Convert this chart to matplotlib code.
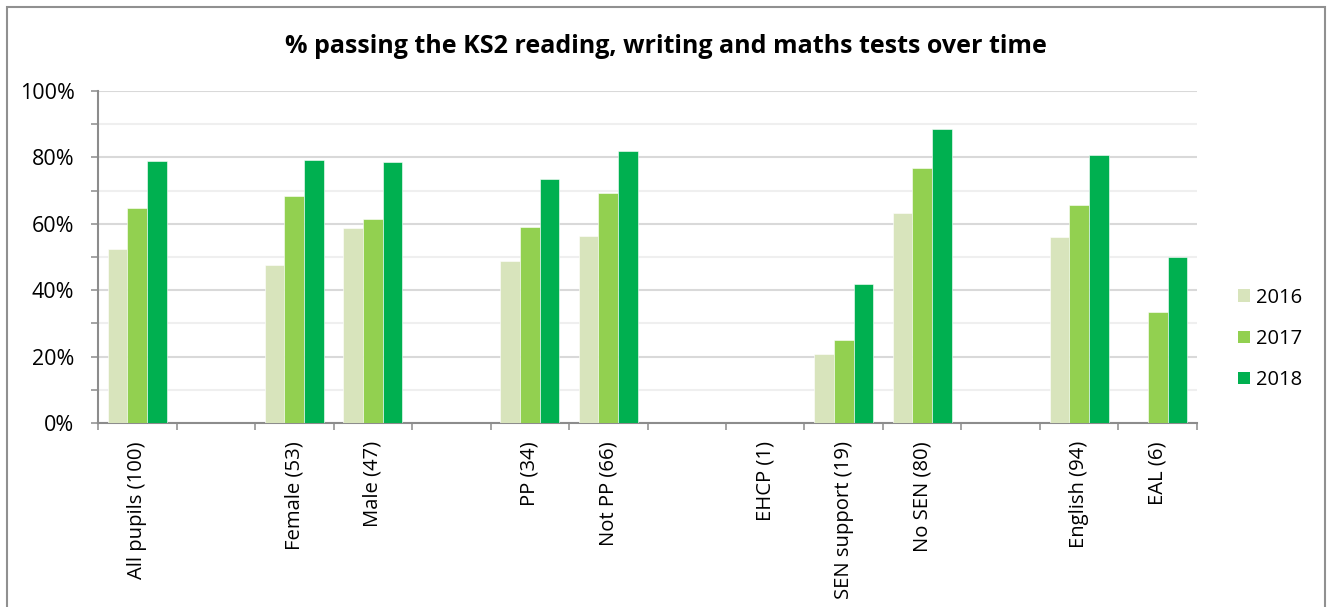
import numpy as np
from matplotlib import pyplot as plt
from matplotlib.patches import Patch, Rectangle

# One slot per category; empty strings are the spacer slots between groups
categories = ["All pupils (100)", "", "Female (53)", "Male (47)", "",
              "PP (34)", "Not PP (66)", "", "EHCP (1)", "SEN support (19)",
              "No SEN (80)", "", "English (94)", "EAL (6)"]
years = ["2016", "2017", "2018"]
nan = np.nan
pass_2016 = [52.3, nan, 47.7, 58.8, nan, 48.7, 56.4, nan, nan, 20.9, 63.2, nan, 55.9, nan]
pass_2017 = [64.8, nan, 68.4, 61.3, nan, 59.1, 69.4, nan, nan, 24.9, 76.7, nan, 65.7, 33.3]
pass_2018 = [79.0, nan, 79.2, 78.7, nan, 73.5, 81.8, nan, nan, 42.0, 88.7, nan, 80.8, 50.0]
colors = ["#d8e4bc", "#92d050", "#00b050"]

plt.rcParams['font.family'] = ['Open Sans', 'DejaVu Sans']

fig = plt.figure(figsize=(13.27, 6.07), dpi=100)
ax = fig.add_axes([0.0739, 0.3031, 0.8281, 0.5470])

x = np.arange(len(categories))
width = 0.25
for i, (vals, col) in enumerate(zip([pass_2016, pass_2017, pass_2018], colors)):
    vals = np.array(vals) / 100.0
    ax.bar(x + (i - 1) * width, vals, width, color=col, edgecolor="white", linewidth=0.4, zorder=3)

ax.set_xlim(-0.5, len(categories) - 0.5)
ax.set_ylim(0, 1)

# y axis: percentages with light minor gridlines every 10%
ax.set_yticks(np.arange(0, 1.01, 0.2))
ax.set_yticks(np.arange(0.1, 1.0, 0.2), minor=True)
ax.set_yticklabels([f"{int(v * 100)}%" for v in np.arange(0, 1.01, 0.2)])
ax.grid(axis="y", which="major", color="#d9d9d9", linewidth=1.5, zorder=0)
ax.grid(axis="y", which="minor", color="#efefef", linewidth=1.5, zorder=0)
ax.tick_params(axis="y", which="both", length=5, width=1.1, color="#8c8c8c",
               labelsize=15.5, pad=12)

# x axis: labels at slot centres, tick marks at slot boundaries
ax.set_xticks(x)
ax.set_xticklabels(categories, rotation=90, va="top", ha="center")
ax.set_xticks(np.arange(-0.5, len(categories)), minor=True)
ax.tick_params(axis="x", which="major", length=0, labelsize=14.6, pad=13)
ax.tick_params(axis="x", which="minor", length=5, width=1.1, color="#8c8c8c")

for side in ["top", "right"]:
    ax.spines[side].set_visible(False)
for side in ["left", "bottom"]:
    ax.spines[side].set_color("#8c8c8c")
    ax.spines[side].set_linewidth(1.5)

fig.text(0.502, 0.9226, "% passing the KS2 reading, writing and maths tests over time",
         ha="center", va="center", fontsize=18, fontweight="bold")

handles = [Patch(facecolor=c, label=y) for c, y in zip(colors, years)]
fig.legend(handles=handles, loc="center left", bbox_to_anchor=(0.9255, 0.4415),
           frameon=False, fontsize=14.5, handlelength=0.6, handleheight=0.6,
           handletextpad=0.3, labelspacing=1.05, borderpad=0)

# grey outline around the whole chart
fig.patches.append(Rectangle((7 / 1327, -0.05), 1318 / 1327, 1.05 - 7 / 607,
                             transform=fig.transFigure, fill=False,
                             edgecolor="#909090", linewidth=1.5, clip_on=False))

fig.savefig("out.png", dpi=100)
